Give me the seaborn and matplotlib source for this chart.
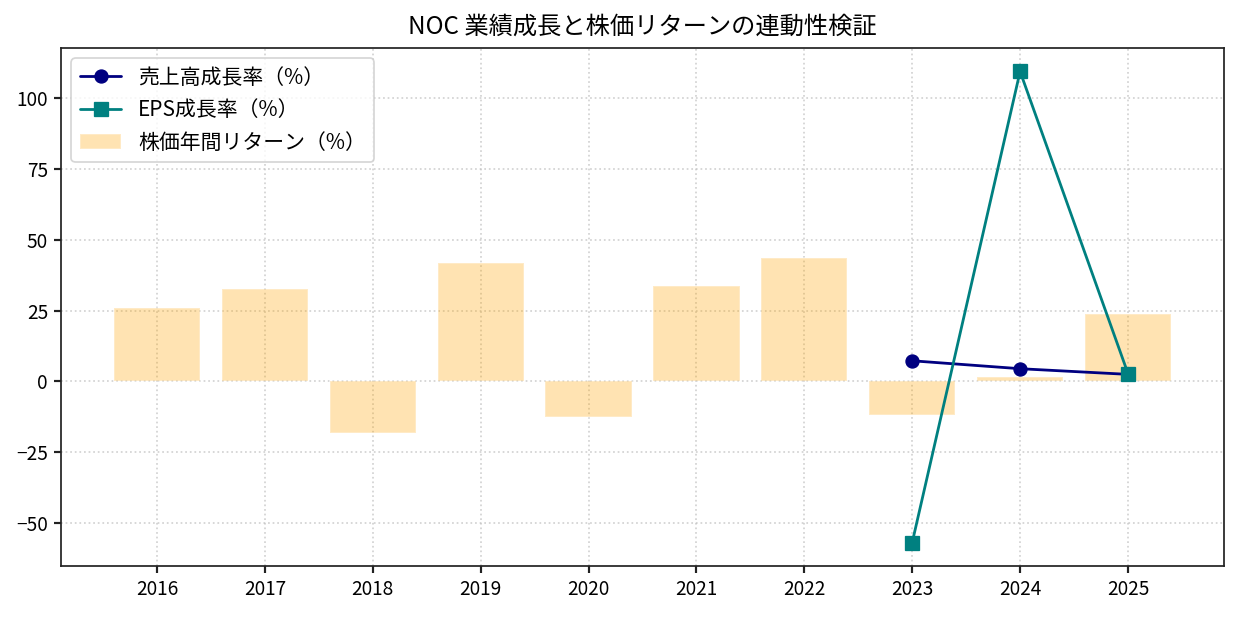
import matplotlib
matplotlib.use("Agg")
import matplotlib.pyplot as plt
import seaborn as sns
import pandas as pd

years = ["2016", "2017", "2018", "2019", "2020", "2021", "2022", "2023", "2024", "2025"]
stock_return = [26.1, 32.7, -18.3, 41.9, -12.6, 33.8, 43.7, -11.9, 1.7, 23.9]

line_years = ["2023", "2024", "2025"]
revenue_growth = [7.3, 4.5, 2.5]
eps_growth = [-56.9, 109.5, 2.8]

title = "NOC 業績成長と株価リターンの連動性検証"
label_rev = "売上高成長率（%）"
label_eps = "EPS成長率（%）"
label_ret = "株価年間リターン（%）"

sns.set_theme(style="ticks")
plt.rcParams["font.family"] = ["Noto Sans CJK JP", "DejaVu Sans"]
plt.rcParams["axes.unicode_minus"] = True
plt.rcParams["text.color"] = "black"
plt.rcParams["axes.labelcolor"] = "black"

fig = plt.figure(figsize=(1238 / 125, 617 / 125), dpi=125)
ax = fig.add_axes([61 / 1238, 1 - 566 / 617, (1224 - 61) / 1238, (566 - 48) / 617])

df_bar = pd.DataFrame({"year": years, "ret": stock_return})
sns.barplot(data=df_bar, x="year", y="ret", order=years, color="orange", alpha=0.3,
            width=0.8, saturation=1, ax=ax, label=label_ret, zorder=2)

pos = [years.index(y) for y in line_years]
sns.lineplot(x=pos, y=revenue_growth, marker="o", color="navy", markersize=7.5,
             markeredgecolor="navy", linewidth=1.6, ax=ax, label=label_rev, zorder=3)
sns.lineplot(x=pos, y=eps_growth, marker="s", color="teal", markersize=7.5,
             markeredgecolor="teal", linewidth=1.6, ax=ax, label=label_eps, zorder=3)

ax.set_xlim(-0.89, 9.89)
ax.set_ylim(-65.2, 117.8)
ax.set_yticks([-50, -25, 0, 25, 50, 75, 100])
ax.set_xlabel("")
ax.set_ylabel("")
ax.grid(True, linestyle=":", color="#c0c0c0", alpha=0.7, linewidth=1.0)
ax.set_axisbelow(True)
for s in ax.spines.values():
    s.set_visible(True)
    s.set_color("#222222")
    s.set_linewidth(1.0)
ax.tick_params(axis="both", labelsize=11, colors="#222222", labelcolor="black", length=4)

ax.set_title(title, fontsize=14, pad=8, color="black")

handles, labels = ax.get_legend_handles_labels()
order = [labels.index(label_rev), labels.index(label_eps), labels.index(label_ret)]
leg = ax.legend([handles[i] for i in order], [labels[i] for i in order],
                loc="upper left", fontsize=12, frameon=True, fancybox=True,
                framealpha=0.8, edgecolor="#cccccc")
for t in leg.get_texts():
    t.set_color("black")

fig.savefig("out.png", dpi=125)
